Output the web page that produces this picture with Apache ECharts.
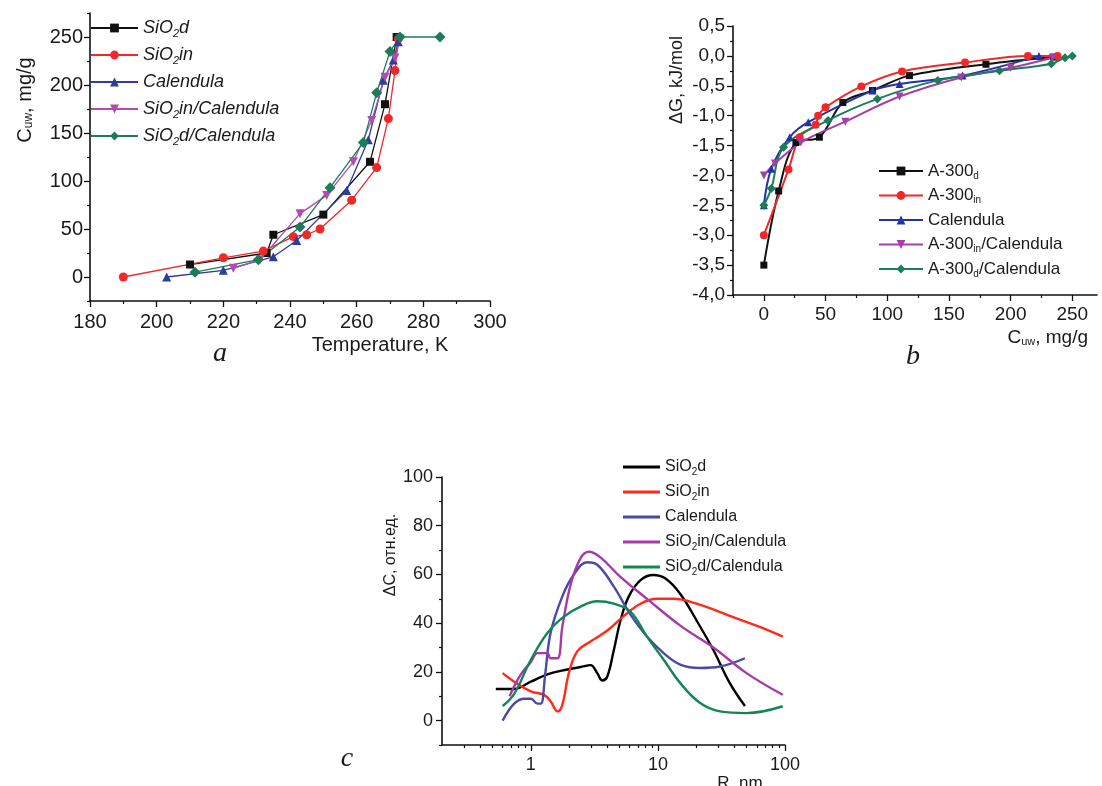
<!DOCTYPE html>
<html><head><meta charset="utf-8">
<script src="https://cdn.jsdelivr.net/npm/echarts@6/dist/echarts.min.js"></script>
<style>html,body{margin:0;padding:0;background:#fff}#c{width:1102px;height:786px}</style>
</head><body><div id="c"></div>
<script>
// ---------- Panel a: C_uw vs Temperature ----------
const aXTicks = [180, 200, 220, 240, 260, 280, 300];
const aYTicks = [0, 50, 100, 150, 200, 250];
const aYMinor = [-25, 25, 75, 125, 175, 225, 275];
const aSiO2d = [[210,13],[233,25],[235,44],[250,65],[264,120],[268.5,180],[272,250]];
const aSiO2in = [[190,0],[220,20],[232,27],[241,42],[245,44],[249,50],[258.5,80],[266,114],[269.5,165],[271.5,215],[272.5,248]];
const aCalendula = [[203,0],[220,7],[235,21],[242,38],[257,90],[263.5,143],[268,205],[271,226],[272.5,245]];
const aSiO2inCal = [[223,9],[231,18],[243,66],[251,85],[259,120],[264.5,163],[268.5,208],[271.5,228],[273,248]];
const aSiO2dCal = [[211.5,5],[230.5,18],[243,52],[252,93],[262,140],[266,192],[270,235],[273,250],[285,250]];

// ---------- Panel b: dG vs C_uw ----------
const bXTicks = [0, 50, 100, 150, 200, 250];
const bXMinor = [-25, 25, 75, 125, 175, 225];
const bA300d = [[0,-3.5],[12,-2.26],[26,-1.45],[45,-1.36],[64,-0.78],[88,-0.58],[118,-0.33],[180,-0.14],[235,-0.02]];
const bA300in = [[0,-3.0],[20,-1.9],[29,-1.36],[42,-1.15],[44,-1.0],[50,-0.86],[79,-0.51],[112,-0.26],[163,-0.11],[214,0.0],[238,0.0]];
const bCalendula = [[0,-2.5],[6,-1.89],[21,-1.36],[36,-1.11],[88,-0.58],[110,-0.47],[161,-0.33],[223,0.0]];
const bInCal = [[0,-2.0],[9,-1.8],[30,-1.45],[66,-1.1],[110,-0.68],[160,-0.36],[200,-0.2],[234,-0.03]];
const bDCal = [[0,-2.5],[6,-2.22],[16,-1.53],[52,-1.08],[92,-0.72],[141,-0.41],[191,-0.25],[233,-0.13],[244,-0.03],[250,0.0]];

// ---------- Panel c: dC vs R (log) ----------
const cXTicks = [1, 10, 100];
const cXMinor = [0.3,0.4,0.5,0.6,0.7,0.8,0.9,2,3,4,5,6,7,8,9,20,30,40,50,60,70,80,90];
const cYTicks = [0, 20, 40, 60, 80, 100];
const cYMinor = [-10, 10, 30, 50, 70, 90];
const cSiO2d = [[0.53,13],[0.74,13],[1.0,16],[1.35,19],[1.94,21],[2.46,22],[2.95,22.8],[3.33,19.5],[3.64,16.5],[3.99,18],[4.5,29],[5.07,41],[5.9,51],[7.3,57.7],[9.2,59.8],[11.4,58.4],[15,52],[20.2,41],[27.3,29],[36.8,15.4],[48.4,6]];
const cSiO2in = [[0.6,19.5],[0.74,16],[1.0,12],[1.27,10.6],[1.43,8],[1.62,3.8],[1.77,6.5],[1.99,19.5],[2.32,28.4],[2.95,32.5],[4.0,37],[5.4,43],[7.3,48],[9.8,50],[13.3,50],[20.2,48],[36.8,43],[67,38],[96,34.5]];
const cCalendula = [[0.6,0],[0.74,7],[0.89,9],[1.0,9],[1.13,7],[1.2,7],[1.3,19.5],[1.43,36],[1.77,51],[2.18,60],[2.78,65],[3.33,64],[4.5,55],[6.1,43.4],[8.2,34.5],[11.1,27.7],[15,23],[21.5,21.6],[30.8,22.2],[48.4,25.6]];
const cInCal = [[0.68,10],[0.83,18.8],[1.0,24],[1.13,27.7],[1.35,27.7],[1.43,25.6],[1.62,25.6],[1.77,38.6],[2.06,56],[2.46,66.6],[2.86,69.3],[3.53,67],[5.07,59],[8.2,50],[15,39],[27.3,30],[49.8,19.5],[96,10.6]];
const cDCal = [[0.6,6],[0.74,11],[1.0,25],[1.35,36],[1.82,42.7],[2.46,46.8],[3.33,49],[4.5,48],[6.1,44.7],[8.2,34.5],[11.1,25],[15,15.4],[21.5,7.2],[30.8,3.8],[49.8,3.1],[96,5.9]];

const legendLabels = {
  a0: 'SiO{s|2}d', a1: 'SiO{s|2}in', a2: 'Calendula', a3: 'SiO{s|2}in/Calendula', a4: 'SiO{s|2}d/Calendula',
  b0: 'A-300{s|d}', b1: 'A-300{s|in}', b2: 'Calendula', b3: 'A-300{s|in}/Calendula', b4: 'A-300{s|d}/Calendula',
  c0: 'SiO{s|2}d', c1: 'SiO{s|2}in', c2: 'Calendula', c3: 'SiO{s|2}in/Calendula', c4: 'SiO{s|2}d/Calendula'
};

const FF = '"Liberation Sans", Arial, sans-serif';
const SERIF = '"Liberation Serif", "DejaVu Serif", serif';
const TXT = '#1a1a1a';
const downTri = 'path://M0,0 L10,0 L5,9 Z';

function mainAxis(o) {
  return Object.assign({
    type: 'value',
    axisLine: { show: true, onZero: false, lineStyle: { color: '#111', width: 1.6 } },
    axisTick: { show: true, inside: false, length: 6, lineStyle: { color: '#111', width: 1.3 } },
    axisLabel: { color: TXT, fontFamily: FF, fontSize: 18 },
    splitLine: { show: false }
  }, o);
}
function minorAxis(o) {
  return Object.assign({
    type: 'value',
    offset: 0,
    axisLine: { show: false, onZero: false },
    axisLabel: { show: false },
    splitLine: { show: false }
  }, o);
}
const tickStyle = { color: '#111', width: 1.2 };

const sa = (name, data, color, symbol, size) => ({
  name, type: 'line', xAxisIndex: 0, yAxisIndex: 0, data, symbol, symbolSize: size,
  lineStyle: { color, width: 1.3 }, itemStyle: { color }, z: 3
});
const sb = (name, data, color, symbol, size) => ({
  name, type: 'line', xAxisIndex: 1, yAxisIndex: 2, data, symbol, symbolSize: size, smooth: 0.35,
  lineStyle: { color, width: 2 }, itemStyle: { color }, z: 3
});
const sc = (name, data, color) => ({
  name, type: 'line', xAxisIndex: 3, yAxisIndex: 3, data, symbol: 'none', smooth: 0.4,
  lineStyle: { color, width: 2.4 }, itemStyle: { color }, z: 3
});

const col = {
  black: '#111111', red: '#f02828', blue: '#2e3c9e', mag: '#b24ab6', green: '#1b7d57',
  cblue: '#4a4aa6', cmag: '#a63aa8', cgreen: '#148555', cred: '#ff2a1a'
};

const option = {
  animation: false,
  backgroundColor: '#fff',
  grid: [
    { left: 90, top: 13, width: 400, height: 288 },
    { left: 733, top: 26, width: 364, height: 269 },
    { left: 442, top: 477, width: 343, height: 268 }
  ],
  xAxis: [
    mainAxis({ gridIndex: 0, position: 'bottom', min: 180, max: 300, interval: 20,
      minorTick: { show: true, splitNumber: 2, length: 3, lineStyle: tickStyle },
      axisLabel: { color: TXT, fontFamily: FF, fontSize: 20, margin: 11, customValues: aXTicks } }),
    mainAxis({ gridIndex: 1, position: 'bottom', min: -25, max: 270,
      axisTick: { show: true, length: 6, lineStyle: { color: '#111', width: 1.3 }, customValues: bXTicks },
      axisLabel: { color: TXT, fontFamily: FF, fontSize: 19, margin: 10, customValues: bXTicks } }),
    minorAxis({ gridIndex: 1, position: 'bottom', min: -25, max: 270,
      axisTick: { show: true, length: 3, lineStyle: tickStyle, customValues: bXMinor } }),
    mainAxis({ gridIndex: 2, position: 'bottom', type: 'log', min: 0.2, max: 100, logBase: 10,
      axisTick: { show: true, length: 6, lineStyle: { color: '#111', width: 1.3 }, customValues: cXTicks },
      axisLabel: { color: TXT, fontFamily: FF, fontSize: 18, margin: 11, customValues: cXTicks, formatter: v => String(v) } }),
    minorAxis({ gridIndex: 2, position: 'bottom', type: 'log', min: 0.2, max: 100, logBase: 10,
      axisTick: { show: true, length: 3, lineStyle: tickStyle, customValues: cXMinor } })
  ],
  yAxis: [
    mainAxis({ gridIndex: 0, position: 'left', min: -25, max: 275,
      axisTick: { show: true, length: 6, lineStyle: { color: '#111', width: 1.3 }, customValues: aYTicks },
      axisLabel: { color: TXT, fontFamily: FF, fontSize: 20, margin: 7, customValues: aYTicks } }),
    minorAxis({ gridIndex: 0, position: 'left', min: -25, max: 275,
      axisTick: { show: true, length: 3, lineStyle: tickStyle, customValues: aYMinor } }),
    mainAxis({ gridIndex: 1, position: 'left', min: -4, max: 0.5, interval: 0.5,
      minorTick: { show: true, splitNumber: 2, length: 3, lineStyle: tickStyle },
      axisLabel: { color: TXT, fontFamily: FF, fontSize: 19, margin: 8,
        formatter: v => v.toFixed(1).replace('.', ',') } }),
    mainAxis({ gridIndex: 2, position: 'left', min: -10, max: 100,
      axisTick: { show: true, length: 6, lineStyle: { color: '#111', width: 1.3 }, customValues: cYTicks },
      axisLabel: { color: TXT, fontFamily: FF, fontSize: 18, margin: 9, customValues: cYTicks } }),
    minorAxis({ gridIndex: 2, position: 'left', min: -10, max: 100,
      axisTick: { show: true, length: 3, lineStyle: tickStyle, customValues: cYMinor } })
  ],
  legend: [
    { orient: 'vertical', left: 90, top: 17, padding: 0, itemWidth: 47, itemHeight: 11, itemGap: 5,
      data: ['a0','a1','a2','a3','a4'], formatter: n => legendLabels[n], selectedMode: false,
      textStyle: { color: TXT, fontFamily: FF, fontSize: 18, fontStyle: 'italic', lineHeight: 22,
        rich: { s: { fontFamily: FF, fontSize: 11, fontStyle: 'italic', color: TXT, verticalAlign: 'bottom', lineHeight: 14 } } } },
    { orient: 'vertical', left: 878, top: 161, padding: 0, itemWidth: 44, itemHeight: 11, itemGap: 4.5,
      data: ['b0','b1','b2','b3','b4'], formatter: n => legendLabels[n], selectedMode: false,
      textStyle: { color: TXT, fontFamily: FF, fontSize: 17, lineHeight: 20,
        rich: { s: { fontFamily: FF, fontSize: 10, color: TXT, verticalAlign: 'bottom', lineHeight: 12 } } } },
    { orient: 'vertical', left: 623, top: 457, padding: 0, itemWidth: 37, itemHeight: 3, itemGap: 5, icon: 'rect',
      data: ['c0','c1','c2','c3','c4'], formatter: n => legendLabels[n], selectedMode: false,
      textStyle: { color: TXT, fontFamily: FF, fontSize: 16, lineHeight: 20,
        rich: { s: { fontFamily: FF, fontSize: 10, color: TXT, verticalAlign: 'bottom', lineHeight: 12 } } } }
  ],
  series: [
    sa('a0', aSiO2d, col.black, 'rect', 8),
    sa('a1', aSiO2in, col.red, 'circle', 9),
    sa('a2', aCalendula, col.blue, 'triangle', 9),
    sa('a3', aSiO2inCal, col.mag, downTri, 9),
    sa('a4', aSiO2dCal, col.green, 'diamond', 11),
    sb('b0', bA300d, col.black, 'rect', 7),
    sb('b1', bA300in, col.red, 'circle', 8),
    sb('b2', bCalendula, '#2233aa', 'triangle', 8),
    sb('b3', bInCal, '#a33fab', downTri, 8),
    sb('b4', bDCal, col.green, 'diamond', 9),
    sc('c0', cSiO2d, '#000000'),
    sc('c1', cSiO2in, col.cred),
    sc('c2', cCalendula, col.cblue),
    sc('c3', cInCal, col.cmag),
    sc('c4', cDCal, col.cgreen)
  ],
  graphic: [
    { type: 'text', x: 25, y: 100, rotation: Math.PI / 2,
      style: { text: 'C{s|uw}, mg/g', fontFamily: FF, fontSize: 20, fill: TXT, align: 'center', verticalAlign: 'middle',
        rich: { s: { fontFamily: FF, fontSize: 12, fill: TXT, verticalAlign: 'bottom', lineHeight: 14 } } } },
    { type: 'text', x: 380, y: 345,
      style: { text: 'Temperature, K', fontFamily: FF, fontSize: 20, fill: TXT, align: 'center', verticalAlign: 'middle' } },
    { type: 'text', x: 220, y: 354,
      style: { text: 'a', fontFamily: SERIF, fontSize: 28, fontStyle: 'italic', fill: TXT, align: 'center', verticalAlign: 'middle' } },
    { type: 'text', x: 677, y: 80, rotation: Math.PI / 2,
      style: { text: 'ΔG, kJ/mol', fontFamily: FF, fontSize: 18, fill: TXT, align: 'center', verticalAlign: 'middle' } },
    { type: 'text', x: 1088, y: 338,
      style: { text: 'C{s|uw}, mg/g', fontFamily: FF, fontSize: 19, fill: TXT, align: 'right', verticalAlign: 'middle',
        rich: { s: { fontFamily: FF, fontSize: 11, fill: TXT, verticalAlign: 'bottom', lineHeight: 13 } } } },
    { type: 'text', x: 913, y: 357,
      style: { text: 'b', fontFamily: SERIF, fontSize: 28, fontStyle: 'italic', fill: TXT, align: 'center', verticalAlign: 'middle' } },
    { type: 'text', x: 391, y: 555, rotation: Math.PI / 2,
      style: { text: 'ΔC, отн.ед.', fontFamily: FF, fontSize: 16, fill: TXT, align: 'center', verticalAlign: 'middle' } },
    { type: 'text', x: 740, y: 783,
      style: { text: 'R, nm', fontFamily: FF, fontSize: 17, fill: TXT, align: 'center', verticalAlign: 'middle' } },
    { type: 'text', x: 347, y: 759,
      style: { text: 'c', fontFamily: SERIF, fontSize: 28, fontStyle: 'italic', fill: TXT, align: 'center', verticalAlign: 'middle' } }
  ]
};

const chart = echarts.init(document.getElementById('c'), null, { renderer: 'canvas' });
chart.setOption(option);
</script></body></html>
